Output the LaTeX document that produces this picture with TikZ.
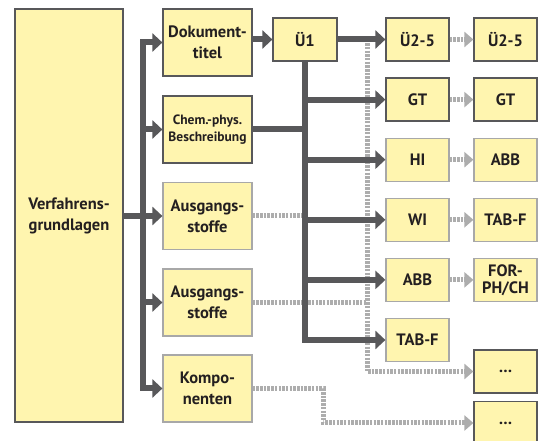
\documentclass[tikz,border=0pt]{standalone}
\usepackage{fontspec}
\setmainfont{PT Sans}
\usetikzlibrary{arrows.meta, calc}

\definecolor{boxyellow}{HTML}{FFF5AF}
\definecolor{darkgrey}{HTML}{58585A}
\definecolor{palegrey}{HTML}{ADADAD}
\definecolor{edgegrey}{HTML}{A8A8A8}
\definecolor{textgrey}{HTML}{231F20}

\tikzset{
  box/.style={draw=darkgrey, line width=1.2pt, fill=boxyellow, text=textgrey,
    align=center, inner sep=0pt, font=\bfseries\fontsize{16.5}{21}\selectfont},
  boxpale/.style={box, draw=edgegrey},
  widebox/.style={minimum width=89pt, minimum height=67pt},
  smallbox/.style={minimum width=63pt, minimum height=43pt},
  flow/.style={draw=darkgrey, line width=6pt},
  flowarrow/.style={flow, -{Triangle[length=10pt,width=18pt]}},
  hint/.style={draw=palegrey, line width=5pt, dash pattern=on 2.5pt off 1.2pt},
  hintarrow/.style={hint, -{Triangle[length=9pt,width=15pt]}},
}

\begin{document}
\begin{tikzpicture}[x=1pt, y=-1pt]
    \useasboundingbox (0,0) rectangle (542,441);

    % --- Main box ---
    \node[box, minimum width=108pt, minimum height=413pt] (main) at (69,215.5) {Verfahrens-\\grundlagen};

    % --- Second column ---
    \node[box, widebox] (doku) at (207.5,42.5) {Dokument-\\titel};
    \node[box, widebox, font=\bfseries\fontsize{13.5}{17}\selectfont] (chem) at (207.5,129.5) {Chem.-phys.\\Beschreibung};
    \node[boxpale, widebox] (aus1) at (207.5,216) {Ausgangs-\\stoffe};
    \node[boxpale, widebox] (aus2) at (207.5,302.5) {Ausgangs-\\stoffe};
    \node[boxpale, widebox] (komp) at (207.5,388.5) {Kompo-\\nenten};

    \node[box, minimum width=64pt, minimum height=43pt] (u1) at (305,39.5) {Ü1};

    % --- Fourth column ---
    \node[box, smallbox] (uza) at (417.5,39.5) {Ü2-5};
    \node[box, smallbox] (gta) at (417.5,99.6) {GT};
    \node[boxpale, smallbox] (hi) at (417.5,159.7) {HI};
    \node[boxpale, smallbox] (wi) at (417.5,219.8) {WI};
    \node[boxpale, smallbox] (abb) at (417.5,279.9) {ABB};
    \node[boxpale, smallbox] (tabf) at (417.5,340) {TAB-F};

    % --- Fifth column ---
    \node[box, smallbox] (uzb) at (505.5,39.5) {Ü2-5};
    \node[box, smallbox] (gtb) at (505.5,99.6) {GT};
    \node[boxpale, smallbox] (abbb) at (505.5,159.7) {ABB};
    \node[boxpale, smallbox] (tabfb) at (505.5,219.8) {TAB-F};
    \node[boxpale, smallbox, font=\bfseries\fontsize{16.5}{17}\selectfont] (forph) at (505.5,279.9) {FOR-\\PH/CH};
    \node[box, smallbox] (dots1) at (505.5,371.5) {\dots};
    \node[box, smallbox] (dots2) at (505.5,423) {\dots};

    \coordinate (bus) at (143,0);
    \coordinate (drop) at (367,0);
    \coordinate (kink) at (323,0);

    % --- Dotted links ---
    \draw[hintarrow] (u1.east -| drop) |- (dots1.west);
    \draw[hint] (aus1.east) -- (aus1.east -| u1.south);
    \draw[hint] (aus2.east) -- (aus2.east -| drop);
    \draw[hintarrow] (komp.east) -- (komp.east -| kink) |- (dots2.west);
    \foreach \a/\b in {uza/uzb, gta/gtb, hi/abbb, wi/tabfb, abb/forph}
      \draw[hintarrow] (\a) -- (\b);

    % --- Main links ---
    \draw[flowarrow] (main.east |- aus1) -- (aus1.west);
    \draw[flowarrow] (bus |- aus1) |- (doku.west);
    \draw[flowarrow] (bus |- aus1) |- (komp.west);
    \foreach \n in {chem, aus2}
      \draw[flowarrow] (bus |- \n) -- (\n.west);

    \draw[flowarrow] (doku.east |- u1) -- (u1.west);
    \draw[flowarrow] (u1.east) -- (uza.west);
    \draw[flow] (chem.east) -- (chem.east -| u1.south);
    \draw[flowarrow] (u1.south) |- (tabf.west);
    \foreach \n in {gta, hi, wi, abb}
      \draw[flowarrow] (u1.south |- \n) -- (\n.west);
\end{tikzpicture}
\end{document}
